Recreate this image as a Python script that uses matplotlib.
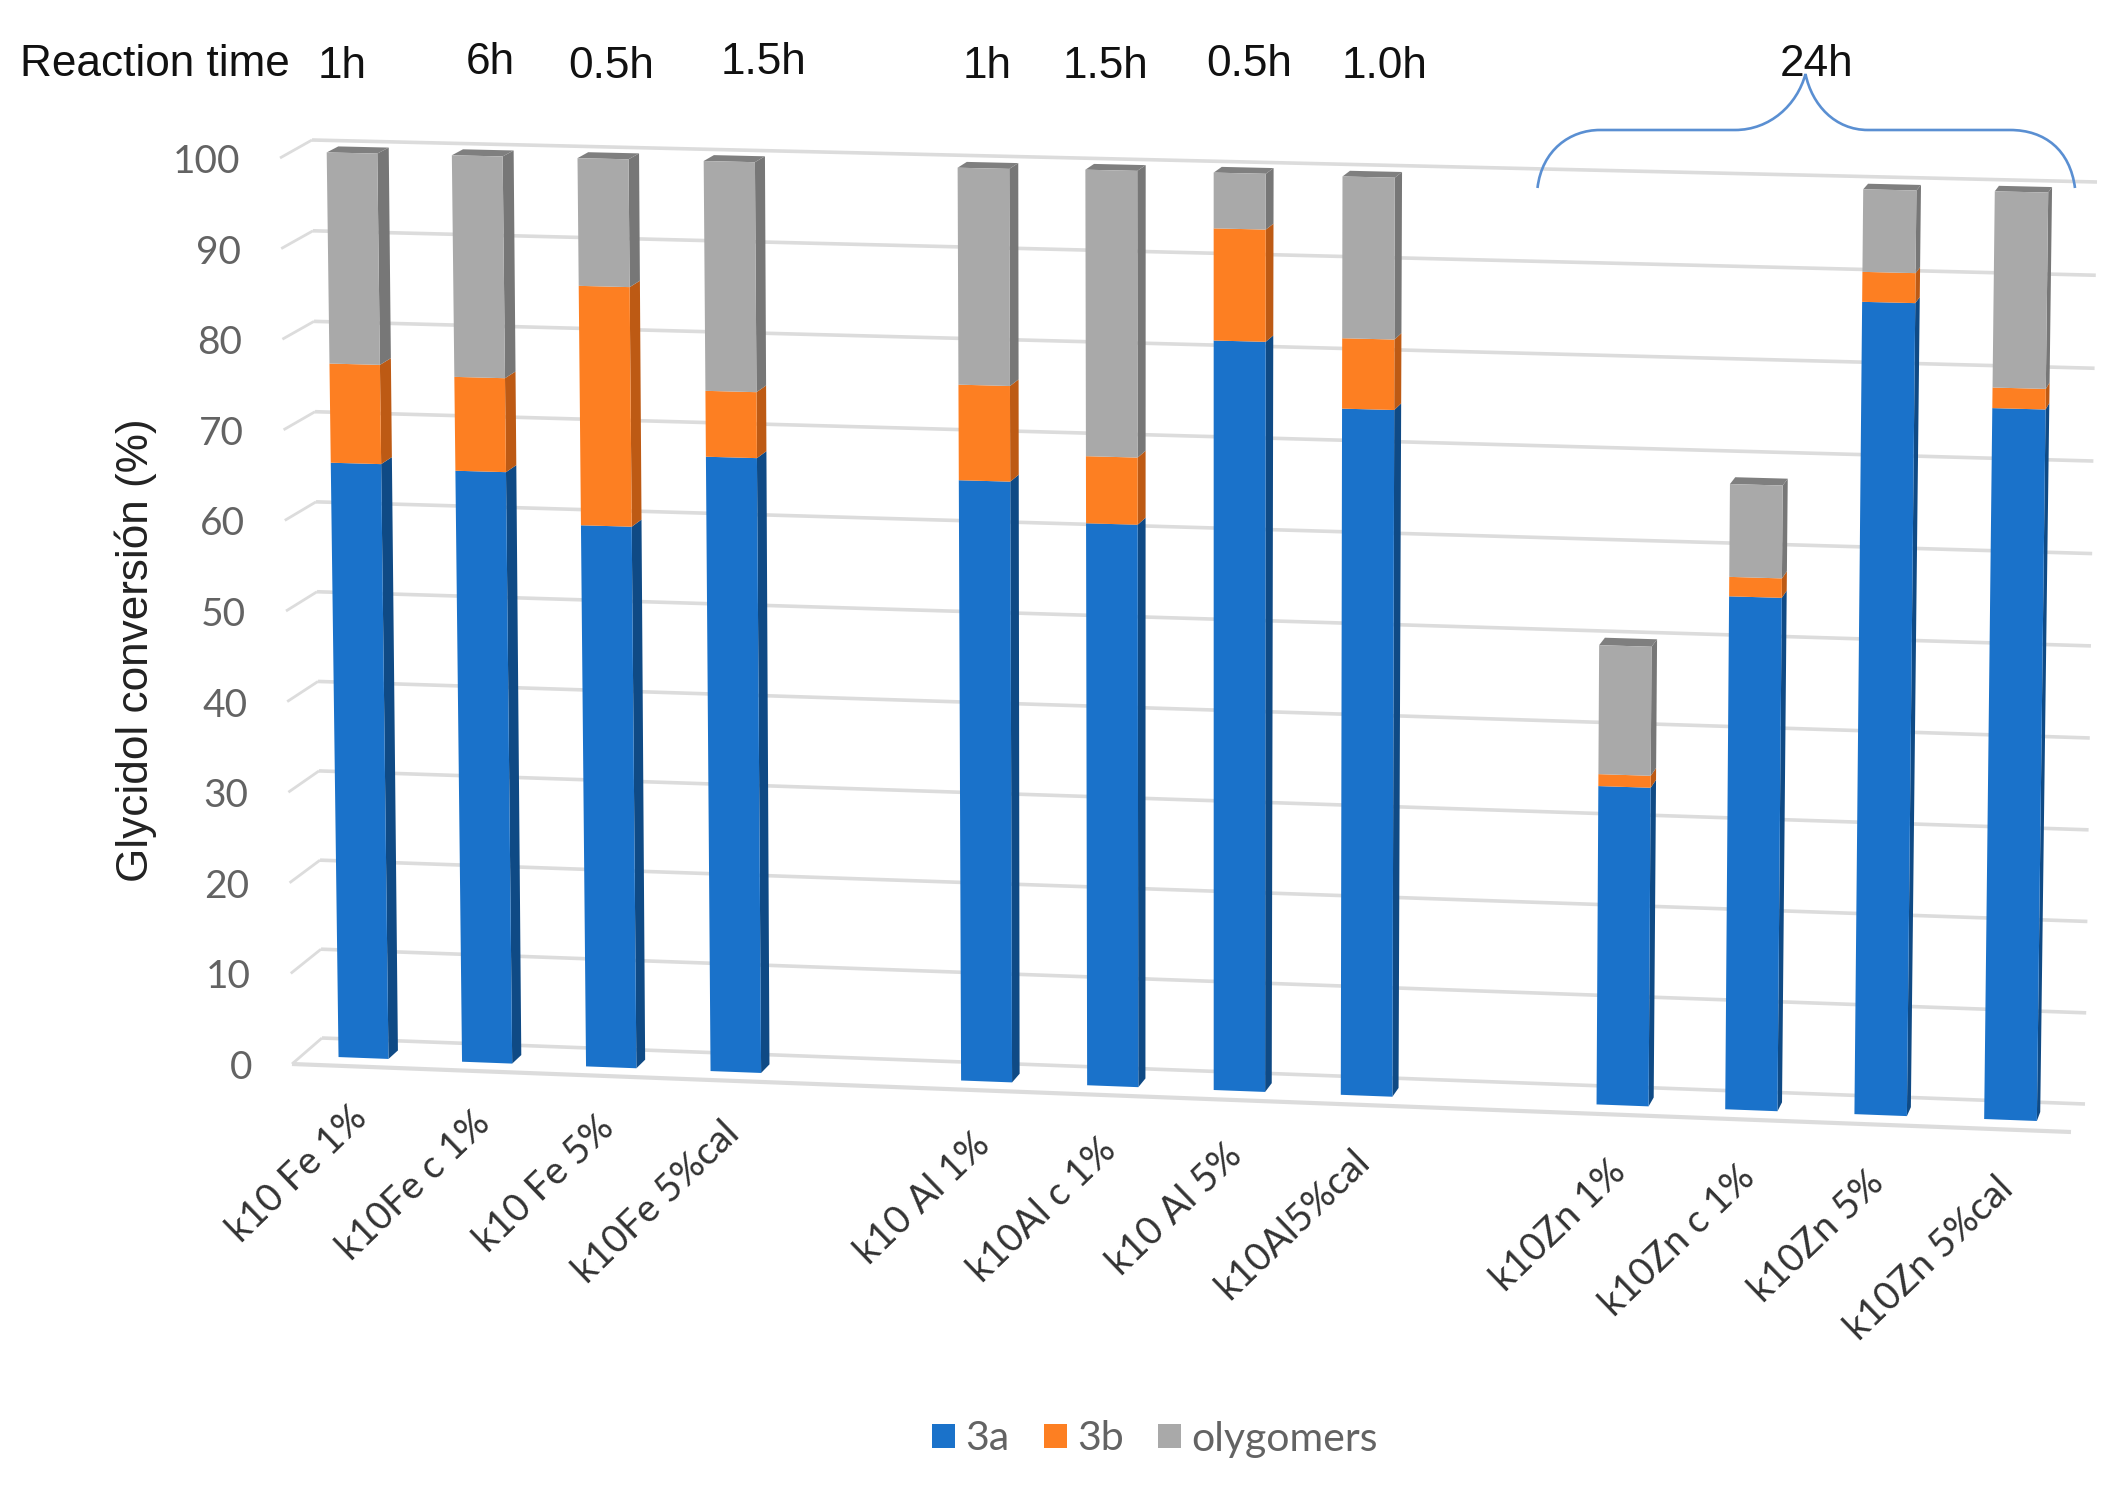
import numpy as np
import matplotlib
matplotlib.use('Agg')
import matplotlib.pyplot as plt
import matplotlib.transforms as mtransforms
from matplotlib.path import Path
from matplotlib.patches import PathPatch

# Data
categories = ['k10 Fe 1%', 'k10Fe c 1%', 'k10 Fe 5%', 'k10Fe 5%cal',
              'k10 Al 1%', 'k10Al c 1%', 'k10 Al 5%', 'k10Al5%cal',
              'k10Zn 1%', 'k10Zn c 1%', 'k10Zn 5%', 'k10Zn 5%cal']
slots = [0, 1, 2, 3, 5, 6, 7, 8, 10, 11, 12, 13]
val_3a = [66.0, 65.5, 59.9, 67.8, 66.0, 61.7, 81.9, 74.9, 34.8, 55.8, 87.8, 76.8]
val_3b = [10.9, 10.3, 26.2, 7.2, 10.4, 7.3, 12.1, 7.6, 1.3, 2.1, 3.2, 2.2]
val_oly = [23.1, 24.2, 13.9, 25.0, 23.5, 31.0, 6.0, 17.4, 14.0, 10.0, 8.8, 20.9]
y_ticks = [0, 10, 20, 30, 40, 50, 60, 70, 80, 90, 100]

times = ['1h', '6h', '0.5h', '1.5h', '1h', '1.5h', '0.5h', '1.0h']
time_x = [342, 490, 611, 763, 987, 1105, 1249, 1385]
time_y = [67, 63, 67, 62, 67, 67, 65, 67]

# Colours: front, side
blue, blue_side = '#1a72ca', '#0f4a85'
orange, orange_side = '#fd7f22', '#bd5a14'
gray, gray_side = '#a9a9a9', '#777777'
cap_color = '#7f7f7f'
grid_color = '#dcdcdc'
W = 0.405  # bar width in slots


class Plane(mtransforms.Transform):
    """Perspective map of a rectangle in data coords onto a quad in pixels."""
    input_dims = 2
    output_dims = 2
    is_separable = False
    has_inverse = False

    def __init__(self, x_range, v_range, corners):
        super().__init__()
        x0, x1 = x_range
        v0, v1 = v_range
        src = [(x0, v0), (x1, v0), (x0, v1), (x1, v1)]
        A, b = [], []
        for (u, v), (px, py) in zip(src, corners):
            A.append([u, v, 1, 0, 0, 0, -u * px, -v * px])
            A.append([0, 0, 0, u, v, 1, -u * py, -v * py])
            b += [px, py]
        self.h = np.append(np.linalg.solve(np.array(A, float), np.array(b, float)), 1).reshape(3, 3)

    def transform_non_affine(self, values):
        values = np.asarray(values, float)
        pts = np.column_stack([values, np.ones(len(values))]) @ self.h.T
        return pts[:, :2] / pts[:, 2:]


# corners order: (low, 0), (high, 0), (low, 100), (high, 100)
front = Plane((0, 13), (0, 100), [(363.5, 1058), (2010.5, 1120), (352, 153), (2021.5, 191)])
rear = Plane((0, 13), (0, 100), [(373, 1049.5), (2014, 1111), (363.5, 147), (2025.5, 185.5)])
wall = Plane((0, 1), (0, 100), [(322, 1038), (2085, 1104), (312, 140), (2097, 182)])

fig = plt.figure(figsize=(21.28, 14.88), dpi=100)
ax = fig.add_axes([0, 0, 1, 1])
ax.set_xlim(0, 2128)
ax.set_ylim(1488, 0)
ax.set_autoscale_on(False)
ax.axis('off')


def to_px(plane, x, v):
    return plane.transform_non_affine(np.array([[x, v]], float))[0]


# back wall, left wall and front edge of the floor
for v in y_ticks:
    ax.plot([0, 1], [v, v], color=grid_color, lw=2.6, solid_capstyle='butt',
            transform=wall + ax.transData, zorder=1)
    bx, by = to_px(wall, 0, v)
    px = 292 + (280 - 292) * v / 100
    py = 1064 + (158 - 1064) * v / 100
    ax.plot([bx, px], [by, py], color=grid_color, lw=2.0, solid_capstyle='butt', zorder=1)
    ax.text(px - 40, py + 4, str(v), ha='right', va='center', fontsize=28,
            family='Lato', color='#636363')
ax.plot([292, 2071], [1064, 1132], color=grid_color, lw=3.0, solid_capstyle='butt', zorder=1)

# stacked bars, front faces
bottom_b = np.array(val_3a)
bottom_o = bottom_b + np.array(val_3b)
total = bottom_o + np.array(val_oly)
ax.bar(slots, val_3a, W, color=blue, lw=0, label='3a', transform=front + ax.transData, zorder=3)
ax.bar(slots, val_3b, W, bottom=bottom_b, color=orange, lw=0, label='3b',
       transform=front + ax.transData, zorder=3)
ax.bar(slots, val_oly, W, bottom=bottom_o, color=gray, lw=0, label='olygomers',
       transform=front + ax.transData, zorder=3)

# side faces and top caps
for i, s in enumerate(slots):
    xr = s + W / 2
    xl = s - W / 2
    for lo, hi, col in [(0, bottom_b[i], blue_side), (bottom_b[i], bottom_o[i], orange_side),
                        (bottom_o[i], total[i], gray_side)]:
        quad = np.array([to_px(front, xr, lo), to_px(rear, xr, lo), to_px(rear, xr, hi), to_px(front, xr, hi)])
        ax.fill(quad[:, 0], quad[:, 1], color=col, lw=0, zorder=2.5)
    cap = np.array([to_px(front, xl, total[i]), to_px(front, xr, total[i]),
                    to_px(rear, xr, total[i]), to_px(rear, xl, total[i])])
    ax.fill(cap[:, 0], cap[:, 1], color=cap_color, lw=0, zorder=2.5)

    # category label hangs off the bar base
    lx, ly = to_px(front, s, 0)
    ax.text(lx - 15, ly + 41 + 9 * s / 13, categories[i], rotation=44, rotation_mode='anchor',
            ha='right', va='top', fontsize=27.5, family='Lato', color='#333333')

# reaction times row
ax.text(20, 64, 'Reaction time', ha='left', va='center', fontsize=31.8,
        family='Liberation Sans', color='#111111')
for label, x, y in zip(times, time_x, time_y):
    ax.text(x, y, label, ha='center', va='center', fontsize=31.8,
            family='Liberation Sans', color='#111111')
ax.text(1817, 65, '24h', ha='center', va='center', fontsize=31.8,
        family='Liberation Sans', color='#111111')

# brace above the Zn group
verts = [(1537.5, 188), (1542, 150), (1570, 130), (1600, 130), (1735, 130),
         (1770, 130), (1797, 105), (1805.5, 74), (1812, 105), (1835, 130), (1868, 130),
         (2010, 130), (2045, 130), (2070, 150), (2075, 188)]
codes = [Path.MOVETO, Path.CURVE4, Path.CURVE4, Path.CURVE4, Path.LINETO,
         Path.CURVE4, Path.CURVE4, Path.CURVE4, Path.CURVE4, Path.CURVE4, Path.CURVE4,
         Path.LINETO, Path.CURVE4, Path.CURVE4, Path.CURVE4]
ax.add_patch(PathPatch(Path(verts, codes), fc='none', ec='#5a8fd2', lw=1.9, zorder=4))

ax.text(136, 650, 'Glycidol conversión (%)', rotation=90, ha='center', va='center',
        fontsize=31.8, family='Liberation Sans', color='#222222')

ax.legend(loc='center', bbox_to_anchor=(1155 / 2128, 1 - 1439 / 1488), ncol=3, frameon=False,
          prop={'family': 'Lato', 'size': 29.5}, labelcolor='#636363',
          handlelength=0.55, handleheight=0.55, handletextpad=0.25, columnspacing=0.85,
          borderpad=0, borderaxespad=0)

fig.savefig('out.png', dpi=100)
